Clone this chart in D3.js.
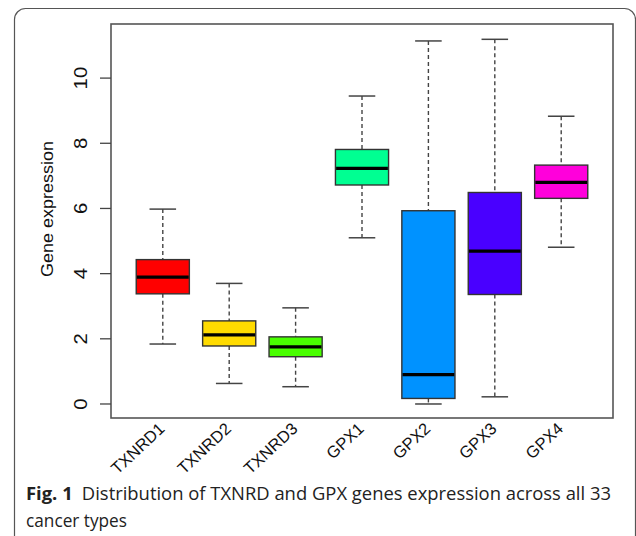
<!DOCTYPE html>
<html>
<head>
<meta charset="utf-8">
<script src="https://cdn.jsdelivr.net/npm/d3@7"></script>
<style>
  body { margin: 0; background: #fff; }
  svg { display: block; }
</style>
</head>
<body>
<div id="chart"></div>
<script>
// values
var genes = ["TXNRD1", "TXNRD2", "TXNRD3", "GPX1", "GPX2", "GPX3", "GPX4"];
var lowerWhisker = [1.84, 0.63, 0.53, 5.10, 0.00, 0.22, 4.81];
var q1 = [3.38, 1.78, 1.45, 6.72, 0.17, 3.36, 6.31];
var medians = [3.89, 2.12, 1.75, 7.23, 0.90, 4.69, 6.80];
var q3 = [4.43, 2.55, 2.06, 7.81, 5.93, 6.49, 7.33];
var upperWhisker = [5.98, 3.70, 2.95, 9.45, 11.14, 11.19, 8.83];
var boxColors = ["#FF0000", "#FFDB00", "#49FF00", "#00FF92", "#0092FF", "#4900FF", "#FF00DB"];
var yTicks = [0, 2, 4, 6, 8, 10];

var width = 636, height = 536;
var plot = {left: 111, right: 613, top: 24, bottom: 418};
var font = "Liberation Sans, Arial, sans-serif";

var svg = d3.select("#chart").append("svg")
    .attr("width", width)
    .attr("height", height);

// rounded frame of the figure panel
svg.append("rect")
    .attr("x", 14.5).attr("y", 8.5)
    .attr("width", 621).attr("height", 560)
    .attr("rx", 11).attr("ry", 11)
    .attr("fill", "none")
    .attr("stroke", "#555")
    .attr("stroke-width", 1.2);

var x = d3.scalePoint()
    .domain(genes)
    .range([plot.left, plot.right])
    .padding(0.78);

var y = d3.scaleLinear()
    .domain([-0.43, 11.66])
    .range([plot.bottom, plot.top]);

var step = x.step();
var boxW = step * 0.8;
var capW = step * 0.4;

var data = genes.map(function(g, i) {
  return {gene: g, lo: lowerWhisker[i], q1: q1[i], med: medians[i], q3: q3[i], hi: upperWhisker[i], color: boxColors[i]};
});

var g = svg.selectAll(".box")
    .data(data)
  .enter().append("g")
    .attr("class", "box");

// whiskers
g.append("line")
    .attr("x1", function(d) { return x(d.gene); })
    .attr("x2", function(d) { return x(d.gene); })
    .attr("y1", function(d) { return y(d.hi); })
    .attr("y2", function(d) { return y(d.q3); })
    .attr("stroke", "#444").attr("stroke-width", 1.4)
    .attr("stroke-dasharray", "4,3");
g.append("line")
    .attr("x1", function(d) { return x(d.gene); })
    .attr("x2", function(d) { return x(d.gene); })
    .attr("y1", function(d) { return y(d.q1); })
    .attr("y2", function(d) { return y(d.lo); })
    .attr("stroke", "#444").attr("stroke-width", 1.4)
    .attr("stroke-dasharray", "4,3");

// caps
["hi", "lo"].forEach(function(k) {
  g.append("line")
      .attr("x1", function(d) { return x(d.gene) - capW / 2; })
      .attr("x2", function(d) { return x(d.gene) + capW / 2; })
      .attr("y1", function(d) { return y(d[k]); })
      .attr("y2", function(d) { return y(d[k]); })
      .attr("stroke", "#444").attr("stroke-width", 1.5);
});

// boxes
g.append("rect")
    .attr("x", function(d) { return x(d.gene) - boxW / 2; })
    .attr("y", function(d) { return y(d.q3); })
    .attr("width", boxW)
    .attr("height", function(d) { return y(d.q1) - y(d.q3); })
    .attr("fill", function(d) { return d.color; })
    .attr("stroke", "#333")
    .attr("stroke-width", 1.4);

// medians
g.append("line")
    .attr("x1", function(d) { return x(d.gene) - boxW / 2 + 0.7; })
    .attr("x2", function(d) { return x(d.gene) + boxW / 2 - 0.7; })
    .attr("y1", function(d) { return y(d.med); })
    .attr("y2", function(d) { return y(d.med); })
    .attr("stroke", "#000").attr("stroke-width", 3.2);

// plot border
svg.append("rect")
    .attr("x", plot.left).attr("y", plot.top)
    .attr("width", plot.right - plot.left)
    .attr("height", plot.bottom - plot.top)
    .attr("fill", "none")
    .attr("stroke", "#555")
    .attr("stroke-width", 1.6);

// y axis
var yAxis = svg.append("g");
yAxis.selectAll(".tick")
    .data(yTicks)
  .enter().append("line")
    .attr("x1", plot.left - 11).attr("x2", plot.left)
    .attr("y1", function(d) { return y(d); })
    .attr("y2", function(d) { return y(d); })
    .attr("stroke", "#444").attr("stroke-width", 1.3);

yAxis.selectAll("text")
    .data(yTicks)
  .enter().append("text")
    .attr("transform", function(d) { return "translate(86.5," + y(d) + ") rotate(-90) scale(1.1,1)"; })
    .attr("text-anchor", "middle")
    .attr("font-family", font)
    .attr("font-size", "18.5px")
    .attr("fill", "#111")
    .text(function(d) { return d; });

svg.append("text")
    .attr("transform", "translate(52.5,209) rotate(-90)")
    .attr("text-anchor", "middle")
    .attr("font-family", font)
    .attr("font-size", "17px")
    .attr("fill", "#111")
    .attr("textLength", 136)
    .attr("lengthAdjust", "spacingAndGlyphs")
    .text("Gene expression");

// x labels, rotated
svg.selectAll(".xlab")
    .data(genes)
  .enter().append("text")
    .attr("class", "xlab")
    .attr("transform", function(d) { return "translate(" + (x(d) + 3) + ",430) rotate(-43)"; })
    .attr("text-anchor", "end")
    .attr("font-family", font)
    .attr("font-size", "16.5px")
    .attr("fill", "#111")
    .text(function(d) { return d; });

// caption
var cap = svg.append("text")
    .attr("x", 26).attr("y", 500)
    .attr("font-family", "Open Sans, sans-serif")
    .attr("font-size", "18.5px")
    .attr("fill", "#222")
    .attr("textLength", 585)
    .attr("lengthAdjust", "spacingAndGlyphs");
cap.append("tspan").attr("font-weight", "bold").text("Fig. 1");
cap.append("tspan").text("\u2002Distribution of TXNRD and GPX genes expression across all 33");

svg.append("text")
    .attr("x", 26).attr("y", 527)
    .attr("font-family", "Open Sans, sans-serif")
    .attr("font-size", "18.5px")
    .attr("fill", "#222")
    .attr("textLength", 101)
    .attr("lengthAdjust", "spacingAndGlyphs")
    .text("cancer types");
</script>
</body>
</html>
